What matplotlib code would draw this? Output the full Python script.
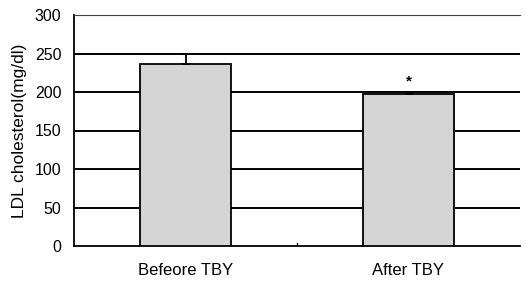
import matplotlib.pyplot as plt

plt.rcParams['font.family'] = ['Liberation Sans', 'DejaVu Sans']

# data
groups = ['Befeore TBY', 'After TBY']
ldl_mean = [237, 197]
ldl_err = [12, 3]
y_ticks = [0, 50, 100, 150, 200, 250, 300]

fig = plt.figure(figsize=(5.25, 2.82), dpi=100)
ax = fig.add_axes([74/525, 1 - 246/282, 446/525, 231/282])

x = range(len(groups))
ax.bar(x, ldl_mean, width=0.41, color='#d4d4d4', edgecolor='black',
       linewidth=1.3, zorder=3)
ax.errorbar(x, ldl_mean, yerr=[[0, 0], ldl_err], fmt='none', ecolor='black',
            elinewidth=1.3, capsize=3, capthick=1.3, zorder=4)
ax.text(1, ldl_mean[1] + ldl_err[1] + 4, '*', ha='center', va='bottom',
        fontsize=11, fontweight='bold')

# horizontal grid lines
for v in y_ticks[1:-1]:
    ax.axhline(v, color='black', linewidth=1.4, zorder=1)

ax.set_xlim(-0.5, 1.5)
ax.set_ylim(0, 300)
ax.set_yticks(y_ticks)
ax.set_xticks(list(x))
ax.set_xticklabels(groups, fontsize=12)
ax.tick_params(axis='both', length=0, labelsize=11.5)
ax.tick_params(axis='x', pad=12, labelsize=12)
ax.tick_params(axis='y', pad=9)
ax.set_ylabel('LDL cholesterol(mg/dl)', fontsize=12.5, labelpad=6)

ax.spines['top'].set_linestyle((0, (3, 1)))
ax.spines['top'].set_color('#444444')
ax.spines['top'].set_linewidth(0.8)
ax.spines['right'].set_visible(False)
ax.spines['left'].set_linewidth(1.3)
ax.spines['bottom'].set_linewidth(1.3)
# small middle tick on the x axis
ax.plot([0.5, 0.5], [0, 4], color='black', linewidth=1, zorder=2)

plt.savefig('out.png', dpi=100)
